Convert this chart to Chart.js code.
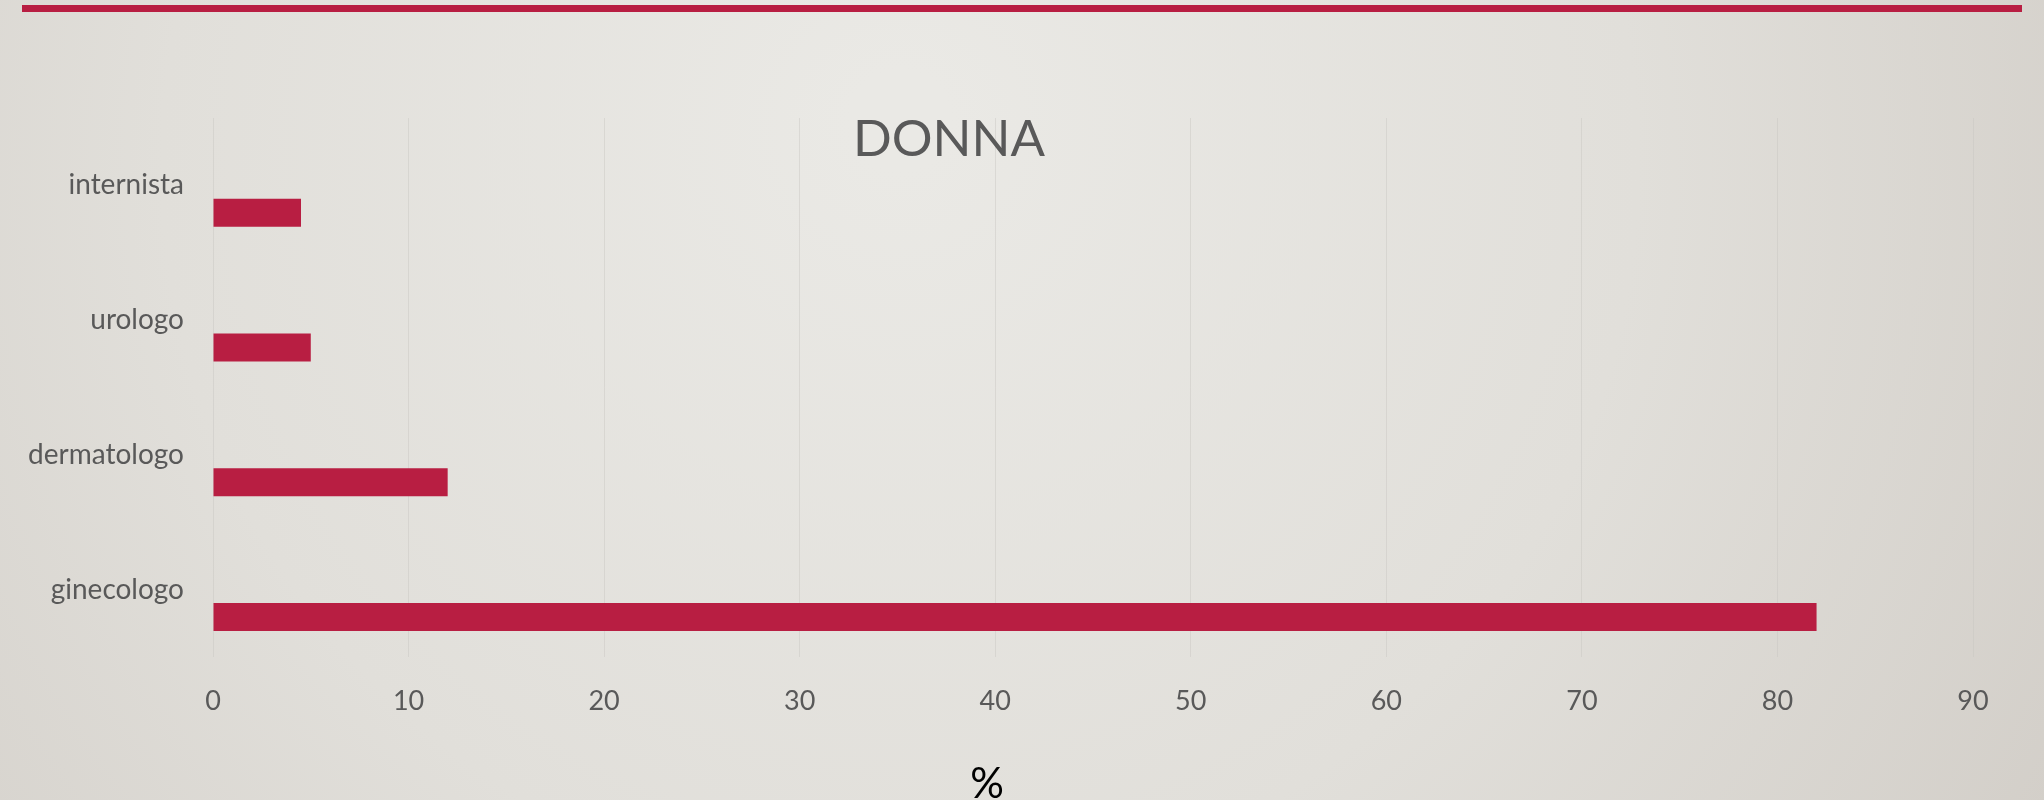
<!DOCTYPE html>
<html>
<head>
<meta charset="utf-8">
<script src="https://cdn.jsdelivr.net/npm/chart.js@4"></script>
<style>
  html, body { margin:0; padding:0; background:#e2e0db; }
  #wrap { width:2044px; height:800px; position:relative; }
</style>
</head>
<body>
<div id="wrap"><canvas id="chart" width="2044" height="800"></canvas></div>
<script>
// dati
const categorie = ['internista', 'urologo', 'dermatologo', 'ginecologo'];
const valoriVuoti = [null, null, null, null];   // serie vuota (come in Excel)
const valoriDonna = [4.5, 5, 12, 82];
const titolo = 'DONNA';
const titoloAsse = '%';

const rosso = '#b81e42';
const grigioTesto = '#595959';

// sfondo della slide + linea rossa in alto + titolo + "%"
const slidePlugin = {
  id: 'slide',
  beforeDraw(chart) {
    const ctx = chart.ctx;
    const w = chart.width, h = chart.height;
    ctx.save();
    const g = ctx.createRadialGradient(900, 120, 50, 900, 200, 1300);
    g.addColorStop(0, '#eae9e5');
    g.addColorStop(0.55, '#e1dfda');
    g.addColorStop(1, '#d3cfc9');
    ctx.fillStyle = g;
    ctx.fillRect(0, 0, w, h);
    ctx.fillStyle = rosso;
    ctx.fillRect(22, 5, w - 44, 7);
    ctx.restore();
  },
  afterDraw(chart) {
    const ctx = chart.ctx;
    ctx.save();
    ctx.fillStyle = grigioTesto;
    ctx.font = '51px Lato';
    ctx.textAlign = 'center';
    ctx.textBaseline = 'middle';
    ctx.fillText(titolo, 949, 140);
    ctx.fillStyle = '#000';
    ctx.font = '42px Lato';
    ctx.fillText(titoloAsse, 987, 784);
    ctx.restore();
  }
};

new Chart(document.getElementById('chart'), {
  type: 'bar',
  data: {
    labels: categorie,
    datasets: [
      { label: '', data: valoriVuoti, backgroundColor: 'rgba(0,0,0,0)' },
      { label: titolo, data: valoriDonna, backgroundColor: rosso, borderWidth: 0 }
    ]
  },
  options: {
    indexAxis: 'y',
    responsive: false,
    animation: false,
    categoryPercentage: 0.816,
    barPercentage: 0.509,
    layout: { padding: { top: 118, right: 71, bottom: 0, left: 0 } },
    plugins: { legend: { display: false }, tooltip: { enabled: false }, title: { display: false } },
    scales: {
      x: {
        min: 0, max: 90,
        ticks: { stepSize: 10, color: grigioTesto, font: { family: 'Lato', size: 27 }, padding: 28 },
        grid: { color: 'rgba(200,198,194,0.45)', lineWidth: 1, drawTicks: false },
        border: { display: false },
        afterFit(scale) { scale.height = 143; }
      },
      y: {
        ticks: { color: grigioTesto, font: { family: 'Lato', size: 28 }, padding: 29 },
        grid: { display: false, drawTicks: false },
        border: { display: false },
        afterFit(scale) { scale.width = 213; }
      }
    }
  },
  plugins: [slidePlugin]
});
</script>
</body>
</html>
